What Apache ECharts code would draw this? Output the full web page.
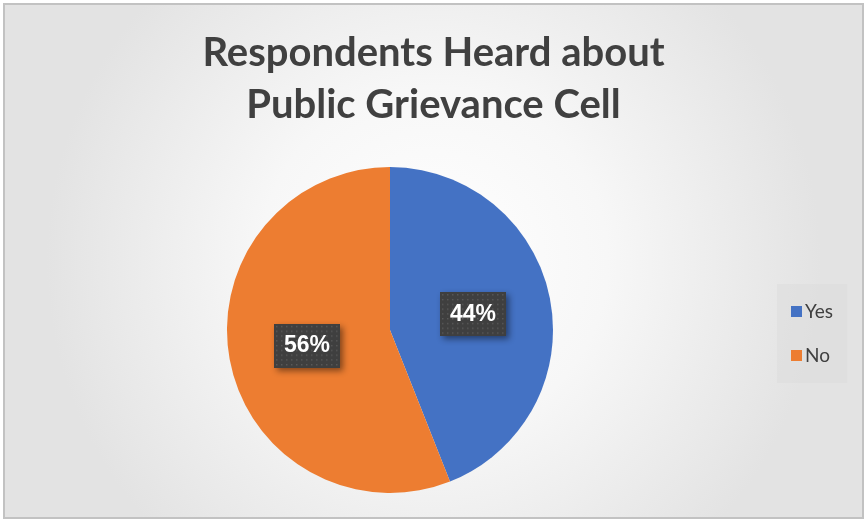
<!DOCTYPE html>
<html>
<head>
<meta charset="utf-8">
<script src="https://cdn.jsdelivr.net/npm/echarts@6/dist/echarts.min.js"></script>
<style>
  html, body { margin: 0; padding: 0; background: #fff; }
  #chart { width: 867px; height: 522px; }
</style>
</head>
<body>
<div id="chart"></div>
<script>
// data
const categories = ['Yes', 'No']
const values = [44, 56]
const colors = ['#4472C4', '#ED7D31']
const titleText = 'Respondents Heard about\nPublic Grievance Cell'

// dotted dark fill for the data labels
function dotPattern(w, h) {
  const c = document.createElement('canvas')
  c.width = w
  c.height = h
  const ctx = c.getContext('2d')
  ctx.fillStyle = '#3f3f3f'
  ctx.fillRect(0, 0, w, h)
  ctx.fillStyle = '#595959'
  for (let y = 2; y < h; y += 5) {
    for (let x = 2; x < w; x += 5) {
      ctx.fillRect(x, y, 1.5, 1.5)
    }
  }
  return c
}

const chart = echarts.init(document.getElementById('chart'))

const option = {
  animation: false,
  graphic: [
    {
      type: 'rect',
      z: -10,
      shape: { x: 4, y: 4, width: 859, height: 514 },
      style: {
        fill: new echarts.graphic.RadialGradient(0.5, 0.5, 0.75, [
          { offset: 0, color: '#ffffff' },
          { offset: 0.45, color: '#f7f7f7' },
          { offset: 1, color: '#e3e3e3' }
        ]),
        stroke: '#c2c2c2',
        lineWidth: 2
      }
    }
  ],
  title: {
    text: titleText,
    left: 'center',
    top: 22,
    textStyle: {
      fontFamily: 'Lato',
      fontSize: 40,
      fontWeight: 'bold',
      color: '#404040',
      lineHeight: 52
    }
  },
  legend: {
    orient: 'vertical',
    left: 777,
    top: 284,
    itemWidth: 11,
    itemHeight: 11,
    itemGap: 25,
    padding: [18, 14, 18, 14],
    backgroundColor: 'rgba(220,220,220,0.5)',
    icon: 'rect',
    textStyle: {
      fontFamily: 'Lato',
      fontSize: 19,
      color: '#404040',
      padding: [0, 0, 0, -2]
    },
    data: categories
  },
  series: [
    {
      type: 'pie',
      center: [390, 330],
      radius: 163,
      startAngle: 90,
      clockwise: true,
      color: colors,
      label: {
        show: true,
        position: 'inside',
        formatter: '{d}%',
        fontFamily: 'Arial',
        fontSize: 23,
        fontWeight: 'bold',
        color: '#ffffff',
        backgroundColor: { image: dotPattern(66, 46) },
        padding: [11, 10, 10, 10],
        shadowColor: 'rgba(0,0,0,0.45)',
        shadowBlur: 6,
        shadowOffsetX: 3,
        shadowOffsetY: 3
      },
      labelLine: { show: false },
      emphasis: { disabled: true },
      data: categories.map((name, i) => ({ name, value: values[i] }))
    }
  ]
}

chart.setOption(option)
</script>
</body>
</html>
